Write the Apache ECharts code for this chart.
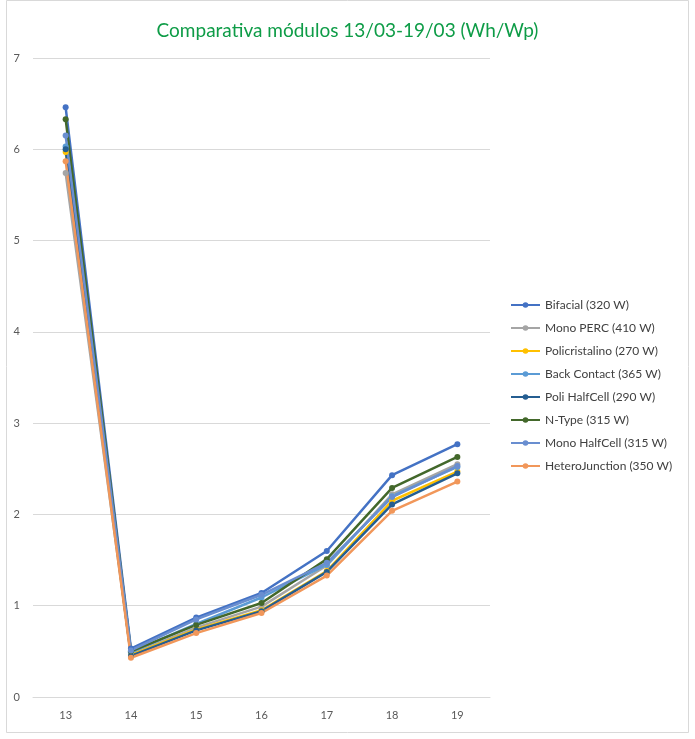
<!DOCTYPE html>
<html>
<head>
<meta charset="utf-8">
<script src="https://cdn.jsdelivr.net/npm/echarts@6/dist/echarts.min.js"></script>
<style>html,body{margin:0;padding:0;background:#fff}#c{width:695px;height:739px}</style>
</head>
<body>
<div id="c"></div>
<script>
const days = ['13','14','15','16','17','18','19'];
const seriesNames = ['Bifacial (320 W)','Mono PERC (410 W)','Policristalino (270 W)','Back Contact (365 W)','Poli HalfCell (290 W)','N-Type (315 W)','Mono HalfCell (315 W)','HeteroJunction (350 W)'];
const bifacial = [6.46, 0.53, 0.87, 1.14, 1.60, 2.43, 2.77];
const monoPerc = [5.74, 0.47, 0.76, 0.99, 1.44, 2.22, 2.55];
const policristalino = [5.97, 0.46, 0.74, 0.95, 1.38, 2.15, 2.47];
const backContact = [6.03, 0.49, 0.80, 1.09, 1.45, 2.20, 2.52];
const poliHalfCell = [6.00, 0.45, 0.73, 0.94, 1.37, 2.11, 2.45];
const nType = [6.33, 0.50, 0.79, 1.03, 1.51, 2.29, 2.63];
const monoHalfCell = [6.15, 0.51, 0.85, 1.12, 1.47, 2.19, 2.53];
const heteroJunction = [5.87, 0.43, 0.70, 0.92, 1.33, 2.04, 2.36];
const values = [bifacial, monoPerc, policristalino, backContact, poliHalfCell, nType, monoHalfCell, heteroJunction];
const colors = ['#4472C4','#A5A5A5','#FFC000','#5B9BD5','#255E91','#43682B','#698ED0','#F1975A'];

const chart = echarts.init(document.getElementById('c'), null, {renderer:'canvas'});
chart.setOption({
  animation: false,
  backgroundColor: '#fff',
  title: {
    text: 'Comparativa módulos 13/03-19/03 (Wh/Wp)',
    left: 'center', top: 16,
    textStyle: {color:'#0E9C47', fontFamily:'Lato', fontSize:19, fontWeight:'normal'}
  },
  graphic: [{type:'rect', shape:{x:6.5,y:0.5,width:682,height:732}, style:{fill:null, stroke:'#D9D9D9', lineWidth:1}, silent:true}],
  legend: {
    orient:'vertical', left: 505, top: 293, itemGap: 9, itemWidth: 29, itemHeight: 7,
    textStyle: {color:'#404040', fontFamily:'Lato', fontSize:12, lineHeight:14},
    data: seriesNames
  },
  grid: {left:33, right:205, top:58, bottom:42},
  xAxis: {
    type:'category', data: days, boundaryGap:true,
    axisLine:{lineStyle:{color:'#D9D9D9'}}, axisTick:{show:false},
    axisLabel:{color:'#595959', fontFamily:'Lato', fontSize:11, margin:13}
  },
  yAxis: {
    type:'value', min:0, max:7, interval:1,
    axisLine:{show:false}, axisTick:{show:false},
    splitLine:{lineStyle:{color:'#D9D9D9'}},
    axisLabel:{color:'#595959', fontFamily:'Lato', fontSize:11, margin:13}
  },
  series: values.map((v,i)=>({
    name: seriesNames[i], type:'line', data: v,
    symbol:'circle', symbolSize:6,
    lineStyle:{width:2.5, color:colors[i]},
    itemStyle:{color:colors[i]}
  }))
});
</script>
</body>
</html>
